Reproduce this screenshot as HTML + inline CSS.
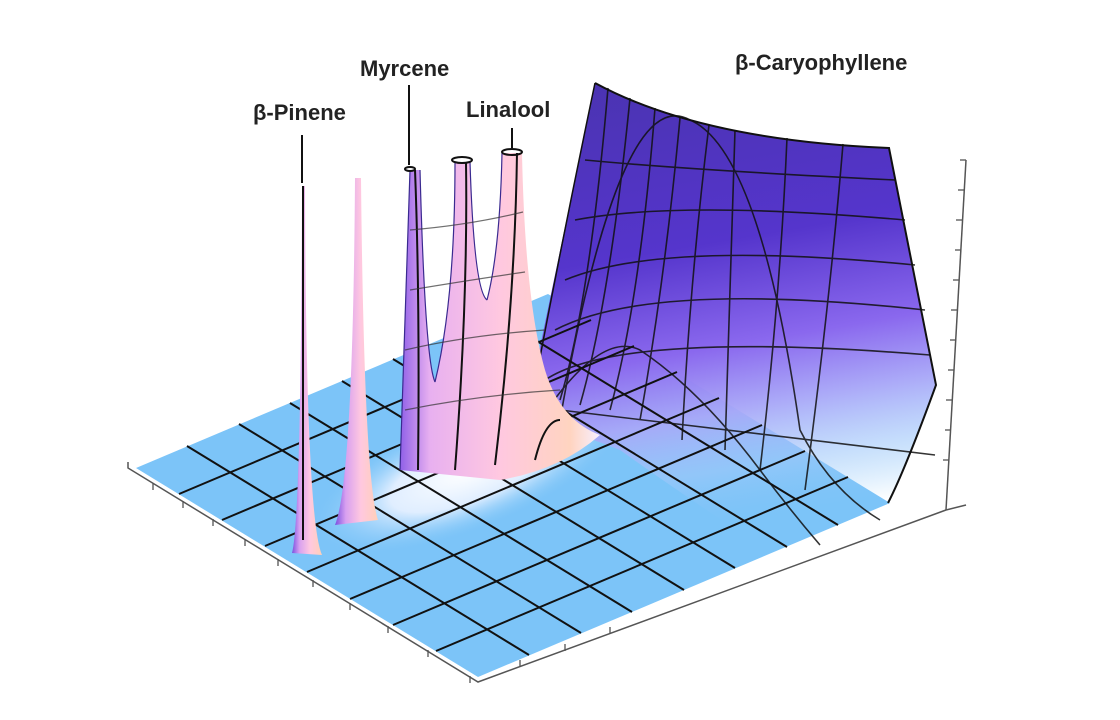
<!DOCTYPE html>
<html><head><meta charset="utf-8"><style>
html,body{margin:0;padding:0;background:#fff;}
svg{display:block}
text{font-family:"Liberation Sans",sans-serif;font-weight:bold;fill:#222;font-size:22px}
</style></head><body>
<svg width="1120" height="720" viewBox="0 0 1120 720" xmlns="http://www.w3.org/2000/svg">
<defs>
<linearGradient id="wall" x1="0" y1="0" x2="0.15" y2="1">
<stop offset="0" stop-color="#4a33b0"/>
<stop offset="0.4" stop-color="#5535cc"/>
<stop offset="0.62" stop-color="#8a68ee"/>
<stop offset="0.76" stop-color="#a8a8f8" stop-opacity="0.95"/>
<stop offset="0.88" stop-color="#a0c8fa" stop-opacity="0.6"/>
<stop offset="1" stop-color="#80c4f8" stop-opacity="0"/>
</linearGradient>
<radialGradient id="glow" cx="0.5" cy="0.5" r="0.5">
<stop offset="0" stop-color="#ffffff"/>
<stop offset="0.5" stop-color="#e0eeff"/>
<stop offset="1" stop-color="#7cc4f8" stop-opacity="0"/>
</radialGradient>
<linearGradient id="pink" x1="0" y1="0" x2="1" y2="0">
<stop offset="0" stop-color="#7a50e0"/>
<stop offset="0.25" stop-color="#d8a0f0"/>
<stop offset="0.6" stop-color="#ffc8e0"/>
<stop offset="1" stop-color="#ffd0b8"/>
</linearGradient>
<linearGradient id="mass" x1="0" y1="0" x2="1" y2="0">
<stop offset="0" stop-color="#9060e8"/>
<stop offset="0.15" stop-color="#e8b0f0"/>
<stop offset="0.5" stop-color="#ffc8e0"/>
<stop offset="0.85" stop-color="#ffd4c0"/>
<stop offset="1" stop-color="#f8f0ff"/>
</linearGradient>
</defs>
<!-- floor -->
<polygon points="136,468 478,677 890,503 548,294" fill="#7cc4f8"/>
<!-- glow on floor -->
<ellipse cx="470" cy="470" rx="170" ry="60" fill="url(#glow)" transform="rotate(-22 470 470)"/>
<!-- wall -->
<path d="M595,83 Q700,140 889,148 L936,385 Q905,470 888,503 L770,552 Q690,500 620,450 Q570,430 525,420 Q560,250 595,83 Z" fill="url(#wall)"/>
<g stroke="#111" stroke-width="2" fill="none">
<line x1="179" y1="494" x2="591" y2="320"/>
<line x1="222" y1="520" x2="634" y2="346"/>
<line x1="265" y1="546" x2="677" y2="372"/>
<line x1="307" y1="572" x2="719" y2="398"/>
<line x1="350" y1="599" x2="762" y2="425"/>
<line x1="393" y1="625" x2="805" y2="451"/>
<line x1="436" y1="651" x2="848" y2="477"/>
<line x1="187" y1="446" x2="529" y2="655"/>
<line x1="239" y1="424" x2="581" y2="633"/>
<line x1="290" y1="403" x2="632" y2="612"/>
<line x1="342" y1="381" x2="684" y2="590"/>
<line x1="393" y1="359" x2="735" y2="568"/>
<line x1="445" y1="338" x2="787" y2="547"/>
<line x1="496" y1="316" x2="838" y2="525"/>
</g>
<path d="M595,83 Q700,140 889,148 L936,385 Q905,470 888,503" fill="none" stroke="#111" stroke-width="2"/>
<path d="M595,83 Q560,250 530,410" fill="none" stroke="#111" stroke-width="1.5"/>
<g stroke="#111" stroke-width="1.6" fill="none" opacity="0.85">
<path d="M608,88 Q590,300 560,400"/>
<path d="M630,98 Q610,300 580,405"/>
<path d="M655,108 Q640,300 610,410"/>
<path d="M680,118 Q665,280 640,420"/>
<path d="M709,125 Q690,280 682,440"/>
<path d="M735,130 Q730,300 725,450"/>
<path d="M787,138 Q780,300 760,470"/>
<path d="M843,144 Q830,300 805,490"/>
<path d="M545,380 Q620,330 930,355"/>
<path d="M555,330 Q650,280 925,310"/>
<path d="M565,280 Q660,240 915,265"/>
<path d="M575,220 Q680,200 905,220"/>
<path d="M585,160 Q690,170 895,180"/>
<path d="M560,420 Q620,80 690,120 Q760,150 800,430 Q830,490 880,520"/>
<path d="M540,420 Q600,330 640,350 Q700,390 760,470 Q790,510 820,545"/>
<path d="M560,410 Q640,420 935,455"/>
</g>
<!-- pink mass -->
<path d="M400,470 Q405,300 410,170 L420,170 Q425,360 435,382 Q455,300 455,162 L470,162 Q474,290 487,300 Q500,250 502,153 L522,153 Q525,300 545,370 Q560,420 600,435 Q560,470 500,480 Z" fill="url(#mass)"/>
<path d="M410,170 Q405,300 400,470 M435,382 Q425,360 420,170 M455,162 Q455,300 435,382 M470,162 Q474,290 487,300 M502,153 Q500,250 487,300" stroke="#3a2a90" stroke-width="1.2" fill="none"/>
<!-- spike 2 -->
<path d="M335,525 Q353,480 355,178 L361,178 Q364,480 378,520 Z" fill="url(#pink)"/>
<!-- spike 1 -->
<path d="M292,553 Q301,520 302,186 L305,186 Q306,520 322,555 Z" fill="url(#pink)"/>
<line x1="303" y1="186" x2="303" y2="540" stroke="#111" stroke-width="2"/>
<g stroke="#111" stroke-width="2" fill="none">
<ellipse cx="410" cy="169" rx="5" ry="2"/>
<ellipse cx="462" cy="160" rx="10" ry="3"/>
<ellipse cx="512" cy="152" rx="10" ry="3"/>
<line x1="302" y1="135" x2="302" y2="183"/>
<line x1="409" y1="85" x2="409" y2="165"/>
<line x1="512" y1="128" x2="512" y2="148"/>
<path d="M418,470 Q420,300 415,170"/>
<path d="M455,470 Q468,300 466,162"/>
<path d="M495,465 Q515,300 517,153"/>
<path d="M535,460 Q545,420 560,420"/>
</g>
<g stroke="#333" stroke-width="1.2" fill="none" opacity="0.7">
<path d="M405,410 Q480,395 560,390"/>
<path d="M405,350 Q470,335 545,330"/>
<path d="M410,290 Q470,280 525,272"/>
<path d="M410,230 Q470,225 523,212"/>
</g>
<!-- axes -->
<g stroke="#555" stroke-width="1.5" fill="none">
<path d="M128,462 L128,468 L478,682 L946,510"/>
<line x1="966" y1="160" x2="946" y2="510"/>
<line x1="946" y1="510" x2="966" y2="505"/>
</g>
<g stroke="#555" stroke-width="1.3">
<line x1="153" y1="483" x2="153" y2="490"/><line x1="183" y1="501" x2="183" y2="508"/>
<line x1="213" y1="519" x2="213" y2="526"/><line x1="245" y1="539" x2="245" y2="546"/>
<line x1="278" y1="559" x2="278" y2="566"/><line x1="313" y1="580" x2="313" y2="587"/>
<line x1="350" y1="603" x2="350" y2="610"/><line x1="388" y1="626" x2="388" y2="633"/>
<line x1="428" y1="650" x2="428" y2="657"/><line x1="470" y1="676" x2="470" y2="683"/>
<line x1="520" y1="660" x2="520" y2="667"/><line x1="565" y1="644" x2="565" y2="651"/>
<line x1="610" y1="627" x2="610" y2="634"/>
<line x1="960" y1="160" x2="966" y2="160"/><line x1="958" y1="190" x2="964" y2="190"/>
<line x1="956" y1="220" x2="962" y2="220"/><line x1="955" y1="250" x2="961" y2="250"/>
<line x1="953" y1="280" x2="959" y2="280"/><line x1="951" y1="310" x2="957" y2="310"/>
<line x1="950" y1="340" x2="956" y2="340"/><line x1="948" y1="370" x2="954" y2="370"/>
<line x1="946" y1="400" x2="952" y2="400"/><line x1="945" y1="430" x2="951" y2="430"/>
<line x1="943" y1="460" x2="949" y2="460"/>
</g>
<text x="253" y="120">β-Pinene</text>
<text x="360" y="76">Myrcene</text>
<text x="466" y="117">Linalool</text>
<text x="735" y="70">β-Caryophyllene</text>
</svg>
</body></html>
